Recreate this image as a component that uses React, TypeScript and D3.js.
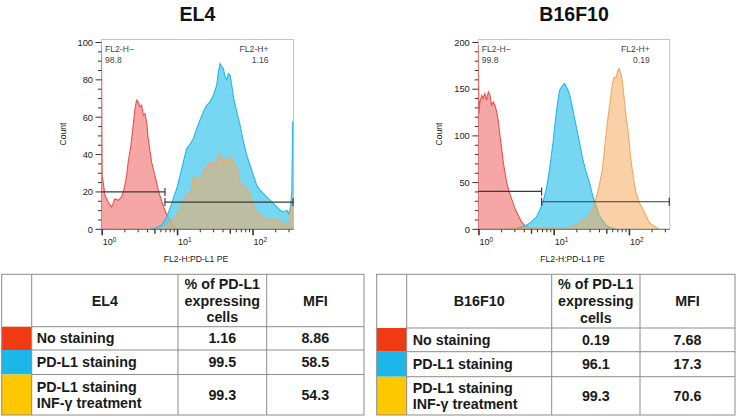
import React from 'react';
import * as d3 from 'd3';

const W = 739;
const H = 417;
const FONT = '"Liberation Sans", Arial, Helvetica, sans-serif';

// ---------- shared axis data ----------
const xDomain: [number, number] = [0.98, 344];
const xDecades = [1, 10, 100];
const xMinorMultipliers = [2, 3, 4, 5, 6, 7, 8, 9];
const gateSplit = 6.8;
const xAxisTitle = 'FL2-H:PD-L1 PE';
const yAxisTitle = 'Count';
const negGateName = 'FL2-H\u2212';
const posGateName = 'FL2-H+';

// ---------- EL4 histogram ----------
const el4Title = 'EL4';
const el4YMax = 101.6;
const el4YTicks = [0, 20, 40, 60, 80, 100];
const el4YMinorStep = 5;
const el4NegGateCount = 20;
const el4PosGateCount = 14.6;
const el4NegPct = '98.8';
const el4PosPct = '1.16';

const el4NoStaining: [number, number][] = [
  [0.98, 98.6], [1.0, 28], [1.03, 25.3], [1.09, 18.2], [1.2, 14.6], [1.33, 12.0], [1.4, 13.8],
  [1.47, 16.4], [1.63, 15.5], [1.81, 17.3], [1.96, 21.8], [2.11, 28.6], [2.21, 35.8], [2.4, 44.7],
  [2.58, 55.5], [2.72, 64.4], [2.86, 69.1], [3.01, 68.2], [3.17, 65.5], [3.34, 66.4], [3.5, 61.1],
  [3.69, 62.0], [3.89, 57.3], [4.08, 48.4], [4.53, 35.8], [5.01, 28.6], [5.54, 21.0], [6.15, 15.0],
  [6.8, 10.0], [7.52, 6.5], [8.35, 3.5], [9.23, 1.2], [10.2, 0],
];

const el4PDL1: [number, number][] = [
  [4.3, 0], [5.01, 0.5], [6.15, 2.1], [7.17, 6.6], [7.93, 11.1], [8.77, 16.4], [9.73, 21.8],
  [10.8, 28.9], [11.9, 36.0], [13.2, 43.2], [14.6, 45.5], [16.2, 48.6], [17.9, 53.9], [19.8, 58.4],
  [21.9, 62.8], [24.3, 66.4], [26.9, 68.2], [29.8, 71.8], [33.0, 77.1], [34.7, 84.3], [36.6, 88.7],
  [38.5, 86.9], [40.4, 86.1], [42.6, 81.6], [44.9, 80.0], [47.1, 83.4], [49.7, 82.5], [52.3, 77.1],
  [54.9, 70.9], [60.9, 62.8], [67.4, 55.7], [74.6, 46.8], [82.7, 39.6], [91.4, 34.3], [101, 28.9],
  [112, 23.6], [124, 20.9], [137, 19.1], [152, 17.3], [169, 15.5], [187, 13.8], [207, 11.9],
  [229, 10.2], [253, 9.3], [281, 10.2], [295, 8.4], [311, 11.1], [327, 20], [336, 57.5], [344, 57.5],
];

const el4PDL1IFN: [number, number][] = [
  [5.01, 0], [6.8, 1.2], [7.93, 3.9], [9.23, 6.6], [10.2, 9.3], [11.3, 12.9], [12.5, 17.3],
  [13.9, 19.1], [15.4, 20.9], [16.2, 28.0], [17.0, 28.5], [17.9, 25.3], [19.8, 27.2], [21.9, 30.7],
  [24.3, 33.4], [26.9, 36.0], [28.4, 35.2], [29.8, 36.0], [31.4, 33.4], [33.0, 36.0], [35.8, 40.5],
  [38.5, 37.9], [40.4, 35.2], [42.6, 37.9], [44.9, 36.0], [47.1, 36.9], [49.7, 38.7], [52.3, 37.9],
  [54.9, 36.0], [60.9, 33.4], [64.0, 28.9], [67.4, 25.3], [74.6, 22.7], [82.7, 21.8], [91.4, 18.2],
  [101, 12.9], [112, 9.3], [124, 7.5], [137, 6.6], [152, 5.7], [169, 4.8], [187, 5.7], [207, 4.8],
  [229, 3.9], [253, 3.1], [281, 2.1], [311, 5.7], [327, 16.4], [344, 16.4],
];

// ---------- B16F10 histogram ----------
const b16Title = 'B16F10';
const b16YMax = 203.2;
const b16YTicks = [0, 50, 100, 150, 200];
const b16YMinorStep = 10;
const b16NegGateCount = 40.5;
const b16PosGateCount = 29.5;
const b16NegPct = '99.8';
const b16PosPct = '0.19';

const b16NoStaining: [number, number][] = [
  [0.98, 197], [1.0, 124], [1.03, 136.4], [1.09, 143.5], [1.14, 140], [1.2, 145.4], [1.26, 138.2],
  [1.33, 147.1], [1.4, 143.5], [1.47, 132.8], [1.55, 136.4], [1.63, 132.8], [1.72, 125.7], [1.81, 115],
  [1.9, 100.7], [2.0, 86.4], [2.1, 72.1], [2.21, 61.4], [2.33, 50.7], [2.45, 43.6], [2.57, 38.2],
  [2.71, 32.9], [2.86, 27.5], [3.0, 22.2], [3.33, 15.0], [3.68, 7.9], [4.07, 4.3], [4.51, 2.5],
  [4.99, 1.8], [5.52, 1.0], [6.12, 0],
];

const b16PDL1: [number, number][] = [
  [2.21, 0], [3.0, 0.7], [3.68, 2.5], [4.28, 4.3], [4.99, 7.9], [5.81, 13.2], [6.43, 20.4],
  [7.13, 29.3], [7.88, 43.6], [8.71, 65], [9.67, 93.5], [10.2, 111.4], [10.7, 125.7], [11.3, 140],
  [11.8, 148.9], [12.5, 152.4], [13.1, 154.3], [13.8, 156.1], [14.5, 152.4], [15.9, 145.4],
  [17.6, 129], [19.5, 111.4], [21.6, 93.5], [23.9, 75.7], [26.5, 61.4], [29.3, 50.7], [32.4, 36.4],
  [35.9, 25.7], [39.7, 15], [43.9, 9.6], [48.7, 4.3], [53.8, 2.5], [66.1, 0],
];

const b16PDL1IFN: [number, number][] = [
  [2.19, 0], [3.46, 1], [7.41, 1.5], [11.7, 2], [15.9, 2], [19.5, 4.3], [21.6, 6.1], [23.9, 9.6],
  [26.5, 11.4], [29.3, 15], [32.4, 22.2], [35.9, 32.9], [39.7, 47.1], [43.9, 65], [46.2, 82.8],
  [48.7, 100.7], [51.1, 115], [53.8, 129.3], [56.7, 143.5], [59.6, 156.1], [62.7, 163.2],
  [66.1, 161.4], [69.3, 168.5], [73.1, 172.1], [76.9, 166.8], [80.7, 157.8], [85.1, 140],
  [89.6, 122.1], [94.1, 111.4], [99.1, 93.5], [104, 75.7], [110, 61.4], [115, 50.7], [122, 40],
  [134, 29.3], [149, 22.2], [165, 15], [182, 7.9], [202, 4.3], [223, 2.5], [247, 0],
];

// ---------- tables ----------
const tableRowLabels = [['No staining'], ['PD-L1 staining'], ['PD-L1 staining', 'INF-\u03b3 treatment']];
const tableSwatchColors = ['#f03a14', '#1db6e8', '#fec800'];
const tablePctHeader = ['% of PD-L1', 'expressing', 'cells'];
const tableMfiHeader = 'MFI';
const el4Pct = ['1.16', '99.5', '99.3'];
const el4Mfi = ['8.86', '58.5', '54.3'];
const b16Pct = ['0.19', '96.1', '99.3'];
const b16Mfi = ['7.68', '17.3', '70.6'];

// ---------- series styles ----------
const redStyle = { fill: 'rgb(240,78,78)', opacity: 0.5, stroke: '#e8514f' };
const blueStyle = { fill: 'rgb(85,205,240)', opacity: 0.8, stroke: '#22b8e2' };
const orangeStyle = { fill: 'rgb(245,170,95)', opacity: 0.55, stroke: '#efa862' };

type Series = { data: [number, number][]; fill: string; opacity: number; stroke: string };

type HistCfg = {
  id: string;
  left: number;
  width: number;
  title: string;
  yMax: number;
  yTicks: number[];
  yMinorStep: number;
  series: Series[];
  negGate: number;
  posGate: number;
  negPct: string;
  posPct: string;
  posLabelInset: number;
};

const TOP = 39.5;
const BOTTOM = 229.3;

function Histogram({ cfg }: { cfg: HistCfg }) {
  const { id, left, width, title, yMax, yTicks, yMinorStep, series, negGate, posGate, negPct, posPct, posLabelInset } = cfg;
  const right = left + width;
  const x = d3.scaleLog().domain(xDomain).range([left, right]);
  const y = d3.scaleLinear().domain([0, yMax]).range([BOTTOM, TOP]);
  const area = d3
    .area<[number, number]>()
    .x((d) => x(d[0]))
    .y0(y(0))
    .y1((d) => y(d[1]));
  const line = d3
    .line<[number, number]>()
    .x((d) => x(d[0]))
    .y((d) => y(d[1]));

  const minorY = d3.range(0, yMax, yMinorStep).filter((v) => !yTicks.includes(v));
  const minorX: number[] = [];
  xDecades.forEach((d) =>
    xMinorMultipliers.forEach((k) => {
      const v = d * k;
      if (v >= xDomain[0] && v <= xDomain[1]) minorX.push(v);
    })
  );
  const gx = x(gateSplit);
  const tickColor = '#333';
  const cx = left + width / 2;

  return (
    <g>
      <defs>
        <clipPath id={`clip-${id}`}>
          <rect x={left} y={TOP} width={width} height={BOTTOM - TOP + 0.5} />
        </clipPath>
      </defs>
      <text x={cx} y={21} textAnchor="middle" fontFamily={FONT} fontWeight="bold" fontSize={19.5} fill="#111">
        {title}
      </text>
      <rect x={left} y={TOP} width={width} height={BOTTOM - TOP} fill="#fff" stroke="#c4c4c4" strokeWidth={1} />
      <g clipPath={`url(#clip-${id})`}>
        {series.map((s, i) => (
          <g key={i}>
            <path d={area(s.data) || ''} fill={s.fill} fillOpacity={s.opacity} />
            <path
              d={line([[s.data[0][0], 0], ...s.data]) || ''}
              fill="none"
              stroke={s.stroke}
              strokeWidth={1.1}
            />
          </g>
        ))}
      </g>
      {/* gates */}
      <g stroke="#3a3a3a" strokeWidth={1.2}>
        <line x1={left} x2={gx} y1={y(negGate)} y2={y(negGate)} />
        <line x1={gx} x2={gx} y1={y(negGate) - 4} y2={y(negGate) + 4} />
        <line x1={gx} x2={right} y1={y(posGate)} y2={y(posGate)} />
        <line x1={gx} x2={gx} y1={y(posGate) - 4} y2={y(posGate) + 4} />
        <line x1={right - 0.5} x2={right - 0.5} y1={y(posGate) - 4} y2={y(posGate) + 4} />
      </g>
      <g fontFamily={FONT} fontSize={8.6} fill="#444">
        <text x={left + 3.5} y={51.5}>{negGateName}</text>
        <text x={left + 3.5} y={63}>{negPct}</text>
        <text x={right - posLabelInset} y={51.5} textAnchor="end">{posGateName}</text>
        <text x={right - posLabelInset} y={63} textAnchor="end">{posPct}</text>
      </g>
      {/* y axis */}
      <g stroke={tickColor} strokeWidth={1}>
        {yTicks.map((t) => (
          <line key={t} x1={left - 6} x2={left} y1={y(t)} y2={y(t)} />
        ))}
        {minorY.map((t) => (
          <line key={t} x1={left - 3.5} x2={left} y1={y(t)} y2={y(t)} />
        ))}
      </g>
      <g fontFamily={FONT} fontSize={9.3} fill="#222" textAnchor="end">
        {yTicks.map((t) => (
          <text key={t} x={left - 8.5} y={y(t) + 3.3}>
            {t}
          </text>
        ))}
      </g>
      <text
        transform={`translate(${left - 36},${134}) rotate(-90)`}
        textAnchor="middle"
        fontFamily={FONT}
        fontSize={8.6}
        fill="#222"
      >
        {yAxisTitle}
      </text>
      {/* x axis */}
      <line x1={left} x2={right} y1={BOTTOM} y2={BOTTOM} stroke="#555" strokeWidth={0.8} />
      <g stroke={tickColor}>
        {xDecades.map((d) => (
          <line key={d} x1={x(d)} x2={x(d)} y1={BOTTOM} y2={BOTTOM + 6} strokeWidth={1.6} />
        ))}
        {minorX.map((v) => (
          <line
            key={v}
            x1={x(v)}
            x2={x(v)}
            y1={BOTTOM}
            y2={BOTTOM + (String(v)[0] === '5' ? 4.5 : 3)}
            strokeWidth={String(v)[0] === '5' ? 1.4 : 1}
          />
        ))}
      </g>
      <g fontFamily={FONT} fontSize={9} fill="#222">
        {xDecades.map((d, i) => (
          <text key={d} x={x(d) + 0.5} y={245.3}>
            10
            <tspan dy={-3.5} fontSize={6.5}>
              {i}
            </tspan>
          </text>
        ))}
      </g>
      <text x={cx - 1.5} y={262} textAnchor="middle" fontFamily={FONT} fontSize={8.6} fill="#222">
        {xAxisTitle}
      </text>
    </g>
  );
}

type TableCfg = {
  cols: number[];
  rows: number[];
  name: string;
  pct: string[];
  mfi: string[];
  labelInset: number;
};

function Table({ cfg }: { cfg: TableCfg }) {
  const { cols, rows, name, pct, mfi, labelInset } = cfg;
  const fs = 14.3;
  const lh = 15.5;
  const c2 = (cols[1] + cols[2]) / 2;
  const c3 = (cols[2] + cols[3]) / 2;
  const c4 = (cols[3] + cols[4]) / 2;
  const hMid = (rows[0] + rows[1]) / 2;
  return (
    <g>
      {tableSwatchColors.map((c, i) => (
        <rect key={c} x={cols[0]} y={rows[i + 1]} width={cols[1] - cols[0]} height={rows[i + 2] - rows[i + 1]} fill={c} />
      ))}
      <g stroke="#8c8c8c" strokeWidth={1} fill="none">
        <rect x={cols[0]} y={rows[0]} width={cols[4] - cols[0]} height={rows[4] - rows[0]} />
        {cols.slice(1, 4).map((cx) => (
          <line key={cx} x1={cx} x2={cx} y1={rows[0]} y2={rows[4]} />
        ))}
        {rows.slice(1, 4).map((ry) => (
          <line key={ry} x1={cols[1]} x2={cols[4]} y1={ry} y2={ry} />
        ))}
      </g>
      <g fontFamily={FONT} fontWeight="bold" fontSize={fs} fill="#1a1a1a">
        <text x={c2} y={hMid + 5} textAnchor="middle">{name}</text>
        {tablePctHeader.map((t, i) => (
          <text key={t} x={c3} y={hMid + 5 + (i - 1) * 16.7} textAnchor="middle">
            {t}
          </text>
        ))}
        <text x={c4} y={hMid + 5} textAnchor="middle">{tableMfiHeader}</text>
        {tableRowLabels.map((lines, i) => {
          const mid = (rows[i + 1] + rows[i + 2]) / 2;
          return (
            <g key={i}>
              {lines.map((l, j) => (
                <text key={j} x={cols[1] + labelInset} y={mid + 5 + (j - (lines.length - 1) / 2) * lh}>
                  {l}
                </text>
              ))}
              <text x={c3} y={mid + 5} textAnchor="middle">{pct[i]}</text>
              <text x={c4} y={mid + 5} textAnchor="middle">{mfi[i]}</text>
            </g>
          );
        })}
      </g>
    </g>
  );
}

const el4Cfg: HistCfg = {
  id: 'el4',
  left: 101.5,
  width: 192,
  title: el4Title,
  yMax: el4YMax,
  yTicks: el4YTicks,
  yMinorStep: el4YMinorStep,
  series: [
    { data: el4NoStaining, ...redStyle },
    { data: el4PDL1, ...blueStyle },
    { data: el4PDL1IFN, ...orangeStyle },
  ],
  negGate: el4NegGateCount,
  posGate: el4PosGateCount,
  negPct: el4NegPct,
  posPct: el4PosPct,
  posLabelInset: 25,
};

const b16Cfg: HistCfg = {
  id: 'b16',
  left: 478.3,
  width: 191.5,
  title: b16Title,
  yMax: b16YMax,
  yTicks: b16YTicks,
  yMinorStep: b16YMinorStep,
  series: [
    { data: b16NoStaining, ...redStyle },
    { data: b16PDL1, ...blueStyle },
    { data: b16PDL1IFN, ...orangeStyle },
  ],
  negGate: b16NegGateCount,
  posGate: b16PosGateCount,
  negPct: b16NegPct,
  posPct: b16PosPct,
  posLabelInset: 20,
};

const el4Table: TableCfg = {
  cols: [1.7, 31.7, 178, 266.7, 364],
  rows: [274.3, 326.7, 350, 374.5, 415],
  name: el4Title,
  pct: el4Pct,
  mfi: el4Mfi,
  labelInset: 5,
};

const b16Table: TableCfg = {
  cols: [376.7, 406.7, 551.7, 640, 735],
  rows: [274.3, 328, 351.7, 376.7, 415],
  name: b16Title,
  pct: b16Pct,
  mfi: b16Mfi,
  labelInset: 6,
};

export default function App() {
  return (
    <svg
      width={W}
      height={H}
      viewBox={`0 0 ${W} ${H}`}
      style={{ position: 'absolute', left: 0, top: 0, background: '#fff' }}
    >
      <rect x={0} y={0} width={W} height={H} fill="#fff" />
      <Histogram cfg={el4Cfg} />
      <Histogram cfg={b16Cfg} />
      <Table cfg={el4Table} />
      <Table cfg={b16Table} />
    </svg>
  );
}
